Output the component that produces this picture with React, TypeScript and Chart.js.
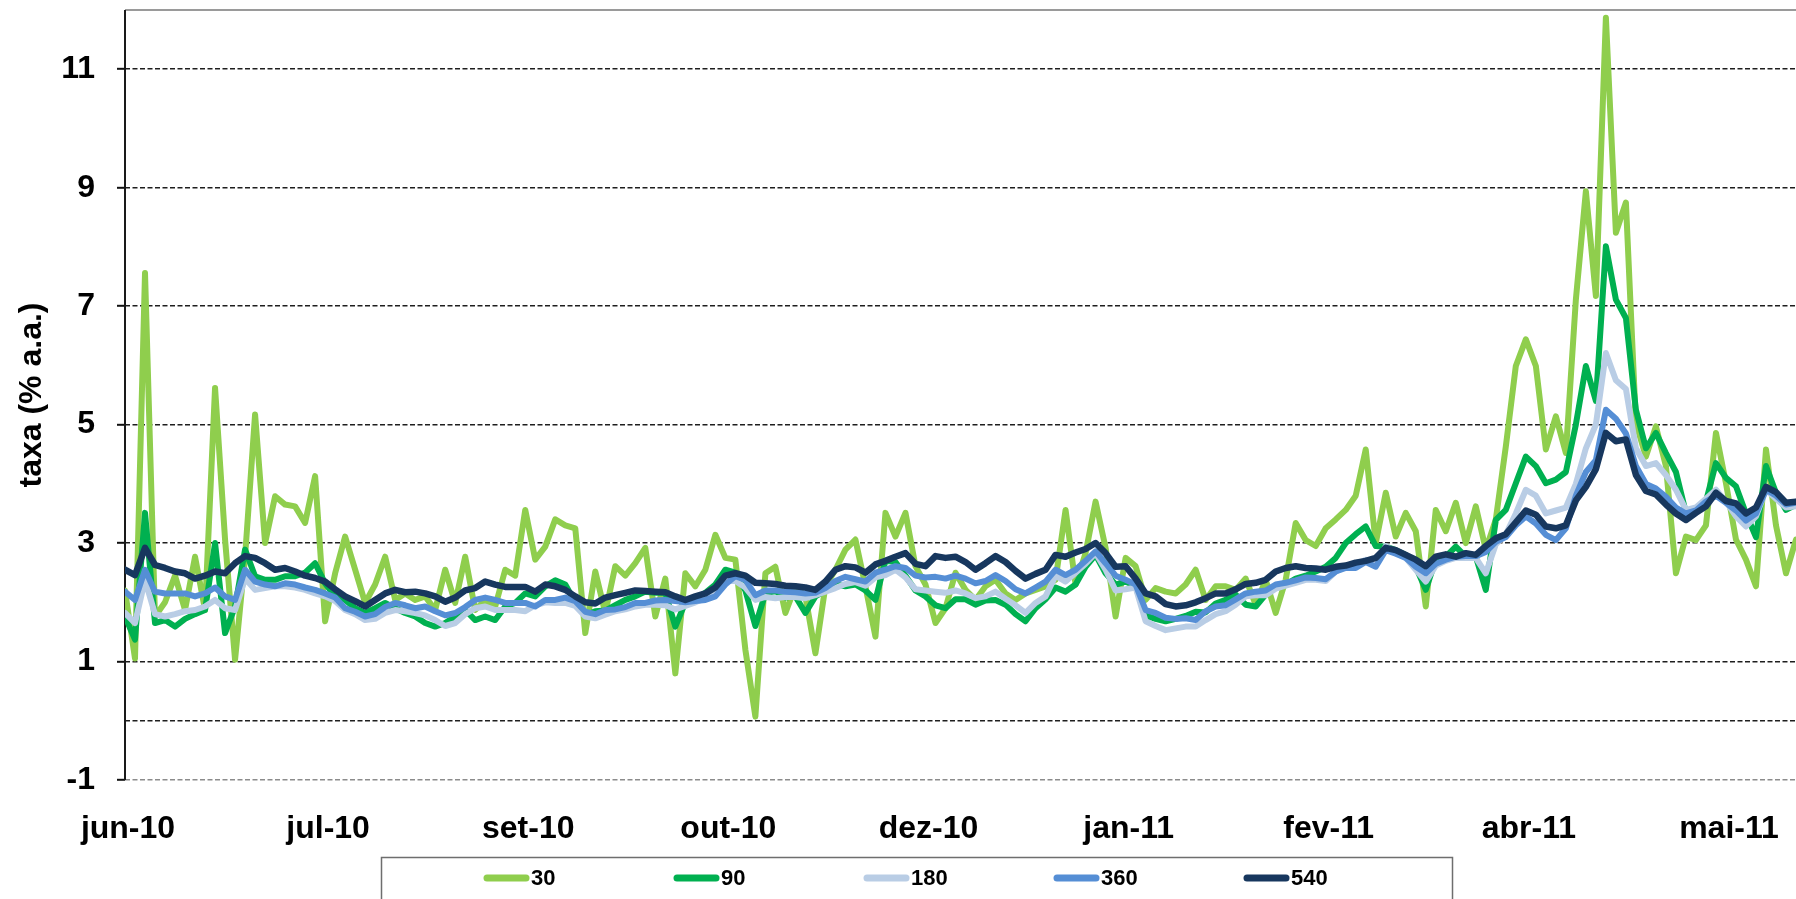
import React, { useEffect, useRef } from 'react';
import { Chart, registerables } from 'chart.js';

Chart.register(...registerables);

const seriesLabels = ['30', '90', '180', '360', '540'];
const seriesColors = ['#8fce4d', '#00b050', '#b9cde5', '#558ed5', '#17375e'];

const tickLabels = ['jun-10', 'jul-10', 'set-10', 'out-10', 'dez-10', 'jan-11', 'fev-11', 'abr-11', 'mai-11'];
const tickIndex = [0, 20, 40, 60, 80, 100, 120, 140, 160];
const yTicks = [-1, 0, 1, 3, 5, 7, 9, 11];

const s30 = [
  2.20, 1.05, 7.56, 1.76, 2.00, 2.45, 1.87, 2.77, 1.87, 5.62,
  3.06, 1.03, 2.77, 5.17, 3.00, 3.79, 3.65, 3.62, 3.34, 4.13,
  1.68, 2.49, 3.11, 2.55, 1.99, 2.30, 2.77, 2.04, 2.15, 2.04,
  2.10, 1.87, 2.55, 1.99, 2.77, 1.87, 2.04, 1.93, 2.55, 2.45,
  3.56, 2.72, 2.94, 3.40, 3.30, 3.25, 1.48, 2.52, 1.82, 2.61,
  2.45, 2.66, 2.92, 1.76, 2.40, 0.80, 2.49, 2.27, 2.55, 3.14,
  2.75, 2.72, 1.20, 0.07, 2.49, 2.60, 1.82, 2.27, 2.10, 1.14,
  2.27, 2.55, 2.89, 3.06, 2.27, 1.42, 3.51, 3.11, 3.51, 2.61,
  2.30, 1.65, 1.90, 2.50, 2.21, 2.04, 2.27, 2.38, 2.15, 2.04,
  2.15, 2.21, 2.27, 2.38, 3.56, 2.30, 2.83, 3.70, 2.92, 1.76,
  2.75, 2.61, 2.04, 2.24, 2.18, 2.15, 2.30, 2.55, 2.04, 2.27,
  2.27, 2.21, 2.40, 1.96, 2.38, 1.82, 2.38, 3.34, 3.05, 2.95,
  3.25, 3.40, 3.56, 3.80, 4.58, 3.00, 3.85, 3.11, 3.51, 3.20,
  1.93, 3.56, 3.20, 3.68, 3.00, 3.62, 2.89, 3.40, 4.63, 5.99,
  6.44, 5.99, 4.58, 5.14, 4.52, 7.11, 8.94, 7.17, 11.87, 8.24,
  8.75, 5.03, 4.46, 4.97, 4.30, 2.49, 3.11, 3.05, 3.30, 4.86,
  4.01, 3.06, 2.72, 2.27, 4.58, 3.30, 2.49, 3.06,
];

const s90 = [
  1.76, 1.37, 3.51, 1.65, 1.70, 1.59, 1.72, 1.80, 1.87, 3.00,
  1.48, 1.93, 2.89, 2.44, 2.38, 2.38, 2.44, 2.44, 2.50, 2.66,
  2.32, 2.10, 2.04, 1.90, 1.82, 1.90, 1.99, 1.90, 1.82, 1.76,
  1.65, 1.59, 1.65, 1.76, 1.87, 1.70, 1.76, 1.70, 1.93, 1.99,
  2.15, 2.10, 2.27, 2.37, 2.30, 2.00, 1.78, 1.85, 1.86, 1.95,
  2.04, 2.10, 2.18, 2.16, 2.16, 1.59, 2.00, 2.06, 2.16, 2.30,
  2.55, 2.50, 2.20, 1.60, 2.15, 2.19, 2.08, 2.10, 1.82, 2.10,
  2.20, 2.30, 2.27, 2.30, 2.20, 2.04, 2.70, 2.68, 2.45, 2.20,
  2.10, 1.95, 1.90, 2.05, 2.05, 1.96, 2.03, 2.04, 1.96, 1.80,
  1.68, 1.90, 2.05, 2.25, 2.18, 2.30, 2.60, 2.80, 2.49, 2.30,
  2.35, 2.27, 1.78, 1.72, 1.68, 1.72, 1.77, 1.84, 1.83, 1.98,
  2.04, 2.13, 1.96, 1.93, 2.13, 2.25, 2.30, 2.40, 2.45, 2.52,
  2.60, 2.75, 3.00, 3.15, 3.28, 2.95, 2.94, 2.88, 2.80, 2.60,
  2.21, 2.72, 2.77, 2.94, 2.77, 2.77, 2.21, 3.39, 3.56, 4.01,
  4.46, 4.30, 4.01, 4.07, 4.20, 5.00, 5.99, 5.40, 8.01, 7.11,
  6.80, 5.25, 4.60, 4.86, 4.52, 4.20, 3.51, 3.56, 3.70, 4.35,
  4.10, 3.96, 3.50, 3.10, 4.30, 3.85, 3.56, 3.65,
];

const s180 = [
  1.82, 1.65, 2.38, 1.80, 1.76, 1.80, 1.85, 1.87, 1.93, 2.04,
  1.90, 1.87, 2.40, 2.21, 2.24, 2.27, 2.27, 2.25, 2.21, 2.15,
  2.10, 2.02, 1.87, 1.80, 1.70, 1.72, 1.82, 1.87, 1.85, 1.82,
  1.78, 1.70, 1.60, 1.65, 1.80, 1.90, 1.93, 1.87, 1.87, 1.87,
  1.85, 1.95, 2.00, 1.99, 1.99, 1.94, 1.76, 1.73, 1.79, 1.85,
  1.88, 1.93, 1.96, 1.96, 1.95, 1.88, 1.94, 2.00, 2.07, 2.20,
  2.36, 2.36, 2.25, 2.04, 2.09, 2.07, 2.09, 2.09, 2.07, 2.12,
  2.18, 2.24, 2.31, 2.34, 2.28, 2.42, 2.46, 2.55, 2.42, 2.22,
  2.20, 2.18, 2.16, 2.20, 2.15, 2.07, 2.10, 2.18, 2.06, 1.95,
  1.82, 1.99, 2.10, 2.45, 2.35, 2.50, 2.65, 2.83, 2.55, 2.20,
  2.22, 2.25, 1.68, 1.60, 1.53, 1.56, 1.59, 1.59, 1.70, 1.80,
  1.85, 1.96, 2.10, 2.12, 2.12, 2.23, 2.28, 2.33, 2.38, 2.38,
  2.36, 2.52, 2.60, 2.62, 2.72, 2.62, 2.95, 2.85, 2.75, 2.55,
  2.35, 2.62, 2.70, 2.75, 2.75, 2.75, 2.49, 2.98, 3.15, 3.50,
  3.90, 3.80, 3.50, 3.55, 3.60, 4.00, 4.60, 5.00, 6.21, 5.75,
  5.60, 4.60, 4.30, 4.35, 4.15, 3.90, 3.56, 3.60, 3.75, 3.90,
  3.70, 3.45, 3.28, 3.45, 3.90, 3.75, 3.60, 3.62,
];

const s360 = [
  2.18, 2.04, 2.55, 2.18, 2.15, 2.15, 2.15, 2.10, 2.15, 2.25,
  2.10, 2.04, 2.55, 2.35, 2.30, 2.27, 2.32, 2.30, 2.25, 2.21,
  2.15, 2.08, 1.90, 1.84, 1.76, 1.80, 1.92, 1.99, 1.95, 1.90,
  1.93, 1.85, 1.78, 1.82, 1.92, 2.04, 2.08, 2.04, 1.99, 1.99,
  1.99, 1.93, 2.04, 2.04, 2.08, 2.02, 1.84, 1.80, 1.87, 1.88,
  1.92, 1.99, 1.99, 2.03, 2.04, 2.02, 2.00, 2.02, 2.04, 2.10,
  2.30, 2.44, 2.38, 2.12, 2.20, 2.20, 2.18, 2.17, 2.15, 2.16,
  2.24, 2.36, 2.43, 2.39, 2.35, 2.50, 2.55, 2.61, 2.58, 2.45,
  2.42, 2.43, 2.40, 2.45, 2.40, 2.32, 2.36, 2.46, 2.36, 2.22,
  2.15, 2.25, 2.35, 2.55, 2.46, 2.55, 2.70, 2.86, 2.66, 2.45,
  2.38, 2.30, 1.87, 1.82, 1.74, 1.72, 1.73, 1.70, 1.85, 1.93,
  1.95, 2.05, 2.15, 2.18, 2.20, 2.30, 2.33, 2.37, 2.42, 2.41,
  2.39, 2.52, 2.58, 2.58, 2.68, 2.60, 2.88, 2.82, 2.75, 2.60,
  2.49, 2.65, 2.72, 2.77, 2.78, 2.78, 2.85, 3.02, 3.10, 3.30,
  3.45, 3.33, 3.14, 3.05, 3.25, 3.80, 4.20, 4.40, 5.25, 5.10,
  4.85, 4.30, 4.00, 3.92, 3.78, 3.60, 3.50, 3.55, 3.70, 3.80,
  3.68, 3.55, 3.38, 3.50, 3.90, 3.80, 3.65, 3.68,
];

const s540 = [
  2.55, 2.46, 2.92, 2.63, 2.58, 2.52, 2.49, 2.40, 2.45, 2.52,
  2.49, 2.66, 2.78, 2.75, 2.66, 2.55, 2.58, 2.52, 2.45, 2.41,
  2.35, 2.22, 2.10, 2.02, 1.93, 2.04, 2.15, 2.21, 2.17, 2.18,
  2.15, 2.10, 2.01, 2.08, 2.20, 2.24, 2.35, 2.30, 2.26, 2.26,
  2.26, 2.18, 2.30, 2.27, 2.21, 2.10, 2.00, 1.98, 2.08, 2.12,
  2.16, 2.20, 2.19, 2.18, 2.17, 2.10, 2.04, 2.10, 2.15, 2.25,
  2.45, 2.49, 2.45, 2.33, 2.32, 2.31, 2.28, 2.27, 2.25, 2.21,
  2.35, 2.55, 2.61, 2.59, 2.50, 2.64, 2.70, 2.77, 2.83, 2.65,
  2.61, 2.78, 2.75, 2.77, 2.68, 2.55, 2.66, 2.78, 2.68, 2.53,
  2.40, 2.48, 2.55, 2.80, 2.77, 2.84, 2.90, 3.00, 2.83, 2.60,
  2.61, 2.40, 2.15, 2.10, 1.97, 1.93, 1.95, 2.00, 2.07, 2.15,
  2.15, 2.22, 2.31, 2.33, 2.38, 2.52, 2.58, 2.61, 2.58, 2.57,
  2.55, 2.60, 2.62, 2.67, 2.70, 2.75, 2.92, 2.88, 2.80, 2.72,
  2.61, 2.77, 2.81, 2.77, 2.83, 2.80, 2.95, 3.08, 3.15, 3.35,
  3.55, 3.48, 3.28, 3.25, 3.30, 3.72, 3.95, 4.25, 4.86, 4.72,
  4.75, 4.15, 3.88, 3.82, 3.65, 3.50, 3.39, 3.51, 3.62, 3.85,
  3.71, 3.67, 3.50, 3.60, 3.95, 3.86, 3.68, 3.70,
];

const FONT = "'Liberation Sans', Arial, Helvetica, sans-serif";

const framePlugin = {
  id: 'frameLines',
  beforeDatasetsDraw(chart: any) {
    const { ctx, chartArea } = chart;
    ctx.save();
    ctx.setLineDash([]);
    ctx.strokeStyle = '#9a9a9a';
    ctx.lineWidth = 2;
    ctx.beginPath();
    ctx.moveTo(chartArea.left, chartArea.top);
    ctx.lineTo(chartArea.right, chartArea.top);
    ctx.stroke();
    ctx.strokeStyle = '#1a1a1a';
    ctx.lineWidth = 2;
    ctx.beginPath();
    ctx.moveTo(chartArea.left, chartArea.top);
    ctx.lineTo(chartArea.left, chartArea.bottom);
    ctx.stroke();
    ctx.restore();
  },
};

const boxLegendPlugin = {
  id: 'boxLegend',
  afterDraw(chart: any, _args: any, opts: any) {
    const { ctx } = chart;
    ctx.save();
    ctx.setLineDash([]);
    ctx.strokeStyle = '#6e6e6e';
    ctx.lineWidth = 1.5;
    ctx.strokeRect(opts.left, opts.top, opts.width, opts.height);
    ctx.font = `bold ${opts.fontSize}px ${FONT}`;
    ctx.textBaseline = 'middle';
    ctx.textAlign = 'left';
    chart.data.datasets.forEach((ds: any, k: number) => {
      const x0 = opts.firstX + k * opts.step;
      const y = opts.itemY;
      ctx.strokeStyle = ds.borderColor;
      ctx.lineWidth = 7;
      ctx.lineCap = 'round';
      ctx.beginPath();
      ctx.moveTo(x0 + 4, y);
      ctx.lineTo(x0 + opts.sample - 4, y);
      ctx.stroke();
      ctx.fillStyle = '#000';
      ctx.fillText(ds.label, x0 + opts.sample + 1, y + 1);
    });
    ctx.restore();
  },
};

export default function App() {
  const ref = useRef<HTMLCanvasElement>(null);

  useEffect(() => {
    if (!ref.current) return;
    const all = [s30, s90, s180, s360, s540];
    const datasets = all.map((arr, k) => ({
      label: seriesLabels[k],
      data: arr.map((v, i) => ({ x: i, y: v })),
      borderColor: seriesColors[k],
      backgroundColor: seriesColors[k],
      borderWidth: k === 4 ? 6.5 : 6,
      pointRadius: 0,
      pointHoverRadius: 0,
      tension: 0,
      fill: false,
      borderJoinStyle: 'round',
      borderCapStyle: 'round',
      order: 5 - k,
    }));

    const tickFont = { family: FONT, size: 32, weight: 'bold' };

    const chart = new Chart(ref.current, {
      type: 'line',
      data: { datasets } as any,
      plugins: [framePlugin, boxLegendPlugin],
      options: {
        responsive: false,
        maintainAspectRatio: false,
        devicePixelRatio: 1,
        animation: false,
        events: [],
        layout: { padding: { left: 0, right: 0, top: 10, bottom: 42 } },
        plugins: {
          legend: { display: false },
          tooltip: { enabled: false },
          boxLegend: {
            left: 381.5, top: 857.5, width: 1071, height: 50,
            firstX: 483, step: 190, sample: 47, itemY: 878, fontSize: 22,
          },
        } as any,
        scales: {
          x: {
            type: 'linear',
            min: 0,
            max: s30.length - 1,
            afterBuildTicks: (scale: any) => {
              scale.ticks = tickIndex.map((v) => ({ value: v }));
            },
            afterFit: (scale: any) => {
              scale.height = 77;
              scale.paddingLeft = 0;
              scale.paddingRight = 0;
            },
            grid: { display: false, drawTicks: false },
            border: { display: false },
            ticks: {
              autoSkip: false,
              maxRotation: 0,
              minRotation: 0,
              padding: 30,
              labelOffset: 3,
              color: '#000',
              font: tickFont,
              callback: (v: any) => {
                const k = tickIndex.indexOf(Number(v));
                return k >= 0 ? tickLabels[k] : '';
              },
            },
          },
          y: {
            type: 'linear',
            min: -1,
            max: 12,
            afterBuildTicks: (scale: any) => {
              scale.ticks = yTicks.map((v) => ({ value: v }));
            },
            afterFit: (scale: any) => {
              scale.width = 125;
              scale.paddingTop = 0;
              scale.paddingBottom = 0;
            },
            grid: {
              color: (c: any) => (c.tick && c.tick.value === -1 ? '#8c8c8c' : '#1e1e1e'),
              lineWidth: 1.6,
              drawTicks: true,
              tickLength: 8,
              tickWidth: 2,
              tickColor: (c: any) => (c.tick && c.tick.value === 0 ? 'rgba(0,0,0,0)' : '#111'),
              tickBorderDash: [],
            },
            border: { display: false, dash: [5, 2.5] },
            ticks: {
              padding: 22,
              color: '#000',
              font: tickFont,
              callback: (v: any) => (Number(v) === 0 ? '' : String(v)),
            },
            title: {
              display: true,
              text: 'taxa (% a.a.)',
              color: '#000',
              font: tickFont,
              padding: { top: 13, bottom: 0 },
            },
          },
        } as any,
      } as any,
    });

    return () => chart.destroy();
  }, []);

  return (
    <div style={{ position: 'absolute', left: 0, top: 0, width: 1796, height: 899, background: '#fff', overflow: 'hidden' }}>
      <canvas ref={ref} width={1796} height={899} style={{ display: 'block', width: 1796, height: 899 }} />
    </div>
  );
}
